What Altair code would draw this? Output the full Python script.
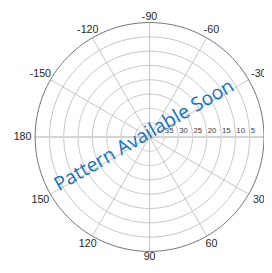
import altair as alt
import pandas as pd

# ---- data ----
R_CENTER = 40  # radial value at the centre (axis reversed: 40 at centre, 0 at rim)
ring_values = [35, 30, 25, 20, 15, 10, 5]
outer_values = [0]
radial_tick_labels = ["35", "30", "25", "20", "15", "10", "5"]
spoke_angles = [30, 60, 90, 120, 150, 210, 240, 270, 300, 330]
axis_angles = [0, 180]
angle_labels = [0, 30, 60, 90, 120, 150, 180, -150, -120, -90, -60, -30]
message = ["Pattern Available Soon"]
theta_steps = list(range(0, 361, 2))

RPX = 118  # rim radius in pixels
PXU = RPX / R_CENTER  # pixels per unit

xs = alt.Scale(domain=[-40, 40], range=[0, 2 * RPX])
ys = alt.Scale(domain=[-40, 40], range=[0, 2 * RPX])

ring_df = pd.DataFrame([(v, t) for v in ring_values for t in theta_steps], columns=["v", "t"])
outer_df = pd.DataFrame([(v, t) for v in outer_values for t in theta_steps], columns=["v", "t"])
spoke_df = pd.DataFrame({"a": spoke_angles})
axis_df = pd.DataFrame({"a": axis_angles})
rlab_df = pd.DataFrame({"v": ring_values, "label": radial_tick_labels})
alab_df = pd.DataFrame({"a": angle_labels})
msg_df = pd.DataFrame({"msg": message})

circle_calc = dict(
    px=f"({R_CENTER}-datum.v)*cos(datum.t*PI/180)",
    py=f"({R_CENTER}-datum.v)*sin(datum.t*PI/180)",
)

rings = alt.Chart(ring_df).transform_calculate(**circle_calc).mark_line(
    color="#c4c4c4", strokeWidth=1
).encode(
    x=alt.X("px:Q", scale=xs, axis=None),
    y=alt.Y("py:Q", scale=ys, axis=None),
    detail="v:N",
    order="t:Q",
)

outer = alt.Chart(outer_df).transform_calculate(**circle_calc).mark_line(
    color="#6e6e6e", strokeWidth=1
).encode(
    x=alt.X("px:Q", scale=xs, axis=None),
    y=alt.Y("py:Q", scale=ys, axis=None),
    detail="v:N",
    order="t:Q",
)

spoke_calc = dict(
    x0="0", y0="0",
    x1=f"{R_CENTER}*cos(datum.a*PI/180)",
    y1=f"{R_CENTER}*sin(datum.a*PI/180)",
)

spokes = alt.Chart(spoke_df).transform_calculate(**spoke_calc).mark_rule(
    color="#c4c4c4", strokeWidth=1
).encode(
    x=alt.X("x0:Q", scale=xs, axis=None),
    y=alt.Y("y0:Q", scale=ys, axis=None),
    x2="x1:Q",
    y2="y1:Q",
)

axis_line = alt.Chart(axis_df).transform_calculate(**spoke_calc).mark_rule(
    color="#d4d4d4", strokeWidth=2
).encode(
    x=alt.X("x0:Q", scale=xs, axis=None),
    y=alt.Y("y0:Q", scale=ys, axis=None),
    x2="x1:Q",
    y2="y1:Q",
)

rlabels = alt.Chart(rlab_df).transform_calculate(
    px=f"{R_CENTER}-datum.v", py="0"
).mark_text(
    align="left", baseline="bottom", dx=1, dy=-2, fontSize=8,
    font="Liberation Sans", color="#404040"
).encode(
    x=alt.X("px:Q", scale=xs, axis=None),
    y=alt.Y("py:Q", scale=ys, axis=None),
    text="label:N",
)

alabels = alt.Chart(alab_df).transform_calculate(
    rr=f"({RPX} + 6 + 7*abs(cos(datum.a*PI/180)))/{PXU}",
    px="datum.rr*cos(datum.a*PI/180)",
    py="datum.rr*sin(datum.a*PI/180)",
    lab="toString(datum.a)",
).mark_text(
    align="center", baseline="middle", fontSize=11,
    font="Liberation Sans", color="#262626"
).encode(
    x=alt.X("px:Q", scale=xs, axis=None),
    y=alt.Y("py:Q", scale=ys, axis=None),
    text="lab:N",
)

msg = alt.Chart(msg_df).transform_calculate(px="0", py="0").mark_text(
    align="center", baseline="middle", angle=330, dx=-4, dy=-4,
    fontSize=20, font="Open Sans", color="#0F73C3"
).encode(
    x=alt.X("px:Q", scale=xs, axis=None),
    y=alt.Y("py:Q", scale=ys, axis=None),
    text="msg:N",
)

chart = alt.layer(rings, spokes, axis_line, outer, rlabels, alabels, msg).properties(
    width=2 * RPX,
    height=2 * RPX,
    padding={"left": 28, "top": 11, "right": 0, "bottom": 10},
    autosize=alt.AutoSizeParams(type="none"),
).configure_view(stroke=None)

chart.save("out.html", embed_options={"renderer": "svg", "actions": False})
